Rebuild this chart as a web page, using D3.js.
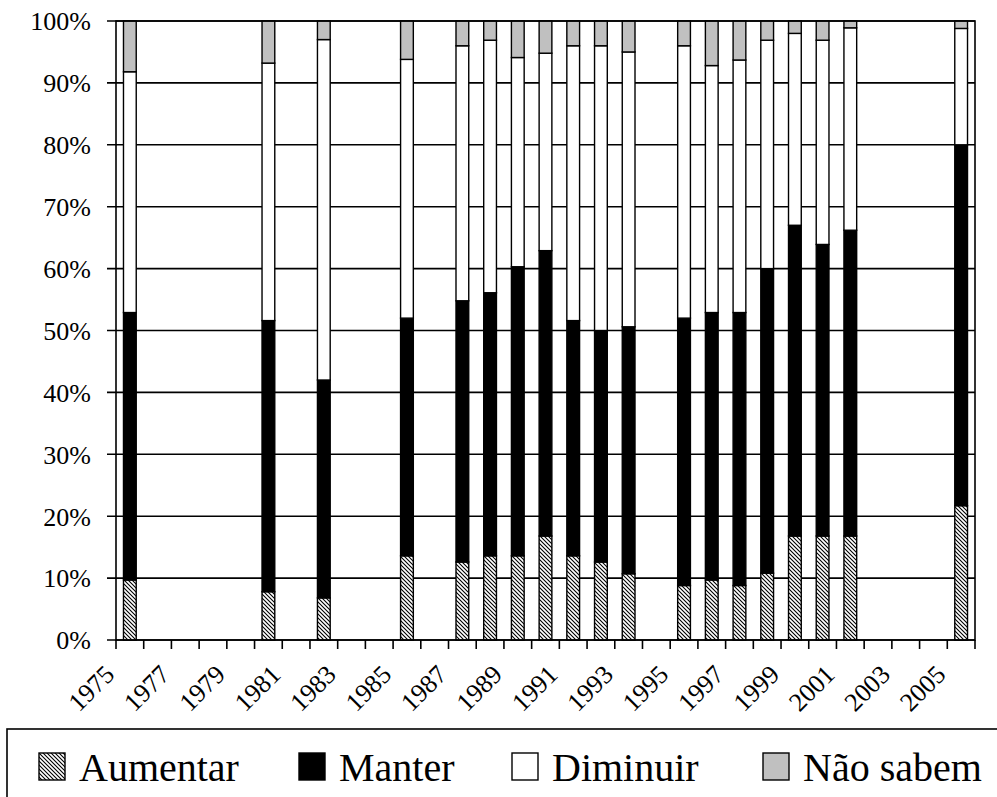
<!DOCTYPE html>
<html>
  <head>
    <title></title>
    <style>
      body, html{
        margin: 0;
        background: #fff;
      }
    </style>
  </head>
  <body>
    <div id="chart"></div>
    <script src="https://cdnjs.cloudflare.com/ajax/libs/d3/7.8.5/d3.min.js" charset="utf-8"></script>
    <script>
      var allYears = d3.range(1975, 2006)
      var tickYears = allYears.filter(function(y){ return (y - 1975) % 2 == 0 })
      var yTicks = [0, 10, 20, 30, 40, 50, 60, 70, 80, 90, 100]

      var series = ['Aumentar', 'Manter', 'Diminuir', 'Não sabem']
      var years    = [1975, 1980, 1982, 1985, 1987, 1988, 1989, 1990, 1991, 1992, 1993, 1995, 1996, 1997, 1998, 1999, 2000, 2001, 2005]
      var aumentar = [9.7, 7.8, 6.8, 13.6, 12.6, 13.6, 13.6, 16.8, 13.6, 12.6, 10.7, 8.8, 9.7, 8.8, 10.8, 16.8, 16.8, 16.8, 21.7]
      var manter   = [43.2, 43.8, 35.2, 38.4, 42.2, 42.5, 46.7, 46.1, 38.0, 37.4, 39.9, 43.2, 43.2, 44.1, 49.2, 50.2, 47.1, 49.4, 58.3]
      var diminuir = [38.9, 41.6, 55.0, 41.8, 41.2, 40.8, 33.8, 31.9, 44.4, 46.0, 44.4, 44.0, 39.9, 40.8, 36.9, 31.0, 33.0, 32.7, 18.8]
      var naoSabem = [8.2, 6.8, 3.0, 6.2, 4.0, 3.1, 5.9, 5.2, 4.0, 4.0, 5.0, 4.0, 7.2, 6.3, 3.1, 2.0, 3.1, 1.1, 1.2]

      var width = 997, height = 797
      var plotL = 116, plotR = 975, plotT = 21, plotB = 640
      var serif = "'Liberation Serif', 'Times New Roman', serif"

      var rows = years.map(function(y, i){
        var r = {year: y}
        r[series[0]] = aumentar[i]
        r[series[1]] = manter[i]
        r[series[2]] = diminuir[i]
        r[series[3]] = naoSabem[i]
        return r
      })
      var stacked = d3.stack().keys(series).offset(d3.stackOffsetExpand)(rows)

      var x = d3.scaleBand().domain(allYears).range([plotL, plotR])
        .paddingInner(0.54).paddingOuter(0.27)
      var y = d3.scaleLinear().domain([0, 1]).range([plotB, plotT])

      var svg = d3.select('#chart').append('svg')
        .attr('width', width).attr('height', height)
        .style('font-family', serif)

      var defs = svg.append('defs')
      defs.append('pattern')
        .attr('id', 'hatch').attr('patternUnits', 'userSpaceOnUse')
        .attr('width', 4).attr('height', 4)
        .call(function(p){
          p.append('rect').attr('width', 4).attr('height', 4).attr('fill', '#fff')
          p.append('path').attr('d', 'M0,0 L4,4 M-1,3 L1,5 M3,-1 L5,1')
            .attr('stroke', '#000').attr('stroke-width', 1.1)
        })

      var fills = {'Aumentar': 'url(#hatch)', 'Manter': '#000', 'Diminuir': '#fff', 'Não sabem': '#c0c0c0'}

      // grid lines with outward ticks on the left
      svg.append('g').selectAll('line').data(yTicks).enter().append('line')
        .attr('x1', plotL - 9).attr('x2', plotR)
        .attr('y1', function(d){ return y(d / 100) }).attr('y2', function(d){ return y(d / 100) })
        .attr('stroke', '#000').attr('stroke-width', 1.6)

      svg.append('g').selectAll('text').data(yTicks).enter().append('text')
        .attr('x', 91).attr('y', function(d){ return y(d / 100) })
        .attr('dy', '0.36em').attr('text-anchor', 'end')
        .style('font-family', serif)
        .style('font-size', '26px')
        .text(function(d){ return d + '%' })

      // bars
      svg.append('g').selectAll('g').data(stacked).enter().append('g')
        .attr('fill', function(d){ return fills[d.key] })
        .selectAll('rect').data(function(d){ return d }).enter().append('rect')
        .attr('x', function(d){ return x(d.data.year) })
        .attr('width', x.bandwidth())
        .attr('y', function(d){ return y(d[1]) })
        .attr('height', function(d){ return y(d[0]) - y(d[1]) })
        .attr('stroke', '#000').attr('stroke-width', 1.4)

      // frame
      svg.append('rect')
        .attr('x', plotL).attr('y', plotT)
        .attr('width', plotR - plotL).attr('height', plotB - plotT)
        .attr('fill', 'none').attr('stroke', '#000').attr('stroke-width', 1.6)

      // x ticks sit between categories
      var bounds = allYears.map(function(d){ return x(d) - x.step() * x.paddingInner() / 2 })
      bounds.push(plotR)
      svg.append('g').selectAll('line').data(bounds).enter().append('line')
        .attr('x1', function(d){ return d }).attr('x2', function(d){ return d })
        .attr('y1', plotB).attr('y2', plotB + 9)
        .attr('stroke', '#000').attr('stroke-width', 1.6)

      var xAxis = svg.append('g').attr('transform', 'translate(0,' + plotB + ')')
        .call(d3.axisBottom(x).tickValues(tickYears).tickSize(0).tickFormat(d3.format('d')))
      xAxis.attr('font-family', null).attr('font-size', null)
      xAxis.select('.domain').remove()
      xAxis.selectAll('text')
        .attr('x', 0).attr('y', 0).attr('dy', 0)
        .attr('transform', 'translate(-14,36) rotate(-45)')
        .attr('fill', '#000')
        .style('text-anchor', 'end')
        .style('font-size', '26px')
        .style('font-family', serif)

      // legend
      var legend = svg.append('g')
      legend.append('rect')
        .attr('x', 7).attr('y', 729).attr('width', 1000).attr('height', 100)
        .attr('fill', '#fff').attr('stroke', '#000').attr('stroke-width', 1.6)
      var legendX = [39, 299, 512, 763]
      var items = legend.selectAll('g.item').data(series).enter().append('g')
        .attr('class', 'item')
        .attr('transform', function(d, i){ return 'translate(' + legendX[i] + ',753)' })
      items.append('rect')
        .attr('width', 26).attr('height', 27)
        .attr('fill', function(d){ return fills[d] })
        .attr('stroke', '#000').attr('stroke-width', 1.4)
      items.append('text')
        .attr('x', 40).attr('y', 28)
        .style('font-family', serif)
        .style('font-size', '40px')
        .text(function(d){ return d })
    </script>
  </body>
</html>
